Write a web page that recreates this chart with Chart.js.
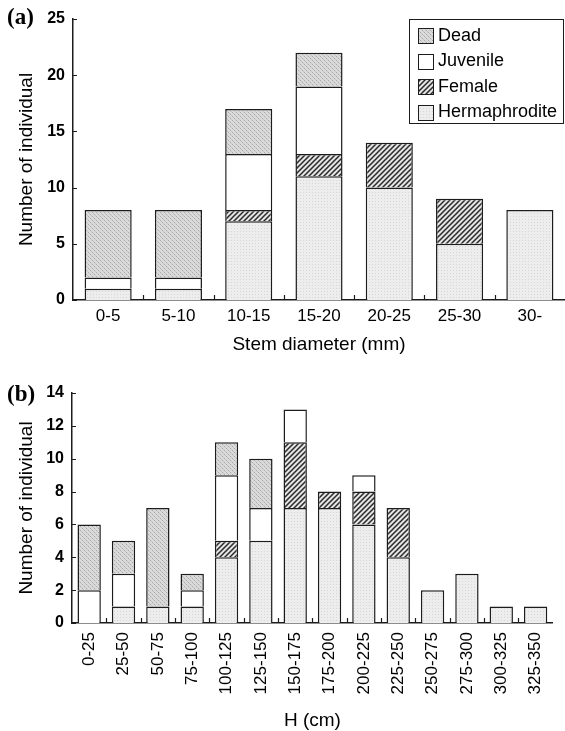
<!DOCTYPE html>
<html>
<head>
<meta charset="utf-8">
<script src="https://cdn.jsdelivr.net/npm/chart.js"></script>
<style>
  html, body { margin: 0; padding: 0; background: #fff; }
  .panel { position: absolute; left: 0; width: 565px; }
  #boxA { top: 0; height: 362px; }
  #boxB { top: 362px; height: 369px; }
</style>
</head>
<body>
<div class="panel" id="boxA"><canvas id="stemChart" width="565" height="362"></canvas></div>
<div class="panel" id="boxB"><canvas id="heightChart" width="565" height="369"></canvas></div>
<script>
    // (a) stem diameter classes
    const stemCats = ['0-5', '5-10', '10-15', '15-20', '20-25', '25-30', '30-'];
    const stemHerm = [1, 1, 7, 11, 10, 5, 8];
    const stemFemale = [0, 0, 1, 2, 4, 4, 0];
    const stemJuv = [1, 1, 5, 6, 0, 0, 0];
    const stemDead = [6, 6, 4, 3, 0, 0, 0];
    const stemTicks = [0, 5, 10, 15, 20, 25];

    // (b) height classes
    const heightCats = ['0-25', '25-50', '50-75', '75-100', '100-125', '125-150', '150-175',
        '175-200', '200-225', '225-250', '250-275', '275-300', '300-325', '325-350'];
    const heightHerm = [0, 1, 1, 1, 4, 5, 7, 7, 6, 4, 2, 3, 1, 1];
    const heightFemale = [0, 0, 0, 0, 1, 0, 4, 1, 2, 3, 0, 0, 0, 0];
    const heightJuv = [2, 2, 0, 1, 4, 2, 2, 0, 1, 0, 0, 0, 0, 0];
    const heightDead = [4, 2, 6, 1, 2, 3, 0, 0, 0, 0, 0, 0, 0, 0];
    const heightTicks = [0, 2, 4, 6, 8, 10, 12, 14];

    const SANS = '"Liberation Sans", Arial, sans-serif';
    const SERIF = '"Liberation Serif", "Times New Roman", serif';
    const INK = '#1c1c1c';

    function makeTile(size, draw) {
        const c = document.createElement('canvas');
        c.width = size; c.height = size;
        const g = c.getContext('2d');
        draw(g, size);
        return document.createElement('canvas').getContext('2d').createPattern(c, 'repeat');
    }

    // fine light dots
    const hermFill = makeTile(3, (g, s) => {
        g.fillStyle = '#ededed'; g.fillRect(0, 0, s, s);
        g.fillStyle = '#d6d6d6'; g.fillRect(0, 0, 1, 1);
    });
    // coarser checker dots
    const deadFill = makeTile(4, (g, s) => {
        g.fillStyle = '#dadada'; g.fillRect(0, 0, s, s);
        g.fillStyle = '#a9a9a9';
        g.fillRect(0, 0, 1, 1); g.fillRect(2, 2, 1, 1);
        g.fillStyle = '#c4c4c4';
        g.fillRect(1, 1, 1, 1); g.fillRect(3, 3, 1, 1);
    });
    // diagonal hatching
    const femaleFill = makeTile(5, (g, s) => {
        g.fillStyle = '#e4e4e4'; g.fillRect(0, 0, s, s);
        g.strokeStyle = '#2a2a2a'; g.lineWidth = 1.5;
        g.beginPath();
        g.moveTo(-1, s + 1); g.lineTo(s + 1, -1);
        g.moveTo(-2, 2); g.lineTo(2, -2);
        g.moveTo(s - 2, s + 2); g.lineTo(s + 2, s - 2);
        g.stroke();
    });
    const juvFill = '#ffffff';

    function makeSets(herm, female, juv, dead, pct) {
        const base = { borderColor: INK, borderWidth: 1.5, barPercentage: pct, categoryPercentage: 1 };
        return [
            Object.assign({ label: 'Hermaphrodite', data: herm, backgroundColor: hermFill }, base),
            Object.assign({ label: 'Female', data: female, backgroundColor: femaleFill }, base),
            Object.assign({ label: 'Juvenile', data: juv, backgroundColor: juvFill }, base),
            Object.assign({ label: 'Dead', data: dead, backgroundColor: deadFill }, base)
        ];
    }

    // inward tick marks + panel letter (+ legend on panel a)
    const decor = {
        id: 'decor',
        afterDraw(chart, args, opts) {
            const ctx = chart.ctx;
            const area = chart.chartArea;
            const x = chart.scales.x, y = chart.scales.y;
            ctx.save();
            ctx.strokeStyle = INK;
            ctx.lineWidth = 1.2;
            ctx.beginPath();
            y.ticks.forEach(t => {
                const py = Math.round(y.getPixelForValue(t.value)) + 0.5;
                ctx.moveTo(area.left, py); ctx.lineTo(area.left + 4, py);
            });
            for (let i = 1; i < x.ticks.length; i++) {
                const px = Math.round((x.getPixelForValue(i - 1) + x.getPixelForValue(i)) / 2) + 0.5;
                ctx.moveTo(px, area.bottom); ctx.lineTo(px, area.bottom - 5);
            }
            ctx.stroke();

            ctx.fillStyle = '#000';
            ctx.font = 'bold 23px ' + SERIF;
            ctx.textBaseline = 'middle';
            ctx.textAlign = 'left';
            ctx.fillText(opts.letter, 7, opts.letterY);

            if (opts.legend) {
                const lx = 409.5, ly = 19.5, lw = 154, lh = 104;
                ctx.fillStyle = '#fff';
                ctx.fillRect(lx, ly, lw, lh);
                ctx.lineWidth = 1;
                ctx.strokeStyle = INK;
                ctx.strokeRect(lx, ly, lw, lh);
                const order = [3, 2, 1, 0];
                ctx.font = '18px ' + SANS;
                order.forEach((di, row) => {
                    const ds = chart.data.datasets[di];
                    const cy = 35 + row * 25.5;
                    ctx.fillStyle = ds.backgroundColor;
                    ctx.fillRect(418.5, Math.round(cy - 7) + 0.5, 15, 15);
                    ctx.strokeStyle = INK;
                    ctx.strokeRect(418.5, Math.round(cy - 7) + 0.5, 15, 15);
                    ctx.fillStyle = '#000';
                    ctx.fillText(ds.label, 438, cy + 1);
                });
            }
            ctx.restore();
        }
    };

    function makeOptions(cfg) {
        return {
            responsive: false,
            animation: false,
            layout: { padding: { top: cfg.top, left: 0, right: 0, bottom: 0 } },
            plugins: {
                legend: { display: false },
                tooltip: { enabled: false },
                decor: { letter: cfg.letter, letterY: cfg.letterY, legend: cfg.legend }
            },
            scales: {
                x: {
                    stacked: true,
                    grid: { display: false, drawTicks: false },
                    border: { display: true, color: INK, width: 1.5 },
                    ticks: {
                        color: '#000', font: { family: SANS, size: 17 }, padding: cfg.xPad,
                        maxRotation: cfg.rot, minRotation: cfg.rot, autoSkip: false
                    },
                    title: {
                        display: true, text: cfg.xTitle, color: '#000',
                        font: { family: SANS, size: 19, lineHeight: 1 },
                        padding: { top: 0, bottom: cfg.xTitlePad }
                    },
                    afterFit: s => { s.height = cfg.xHeight; }
                },
                y: {
                    stacked: true,
                    min: 0, max: cfg.yTicks[cfg.yTicks.length - 1],
                    afterBuildTicks: s => { s.ticks = cfg.yTicks.map(v => ({ value: v })); },
                    grid: { display: false, drawTicks: false },
                    border: { display: true, color: INK, width: 1.5 },
                    ticks: { color: '#000', font: { family: SANS, size: 16, weight: 'bold' }, padding: 8 },
                    title: {
                        display: true, text: 'Number of individual', color: '#000',
                        font: { family: SANS, size: 19, lineHeight: 1.2 },
                        padding: { top: 15, bottom: 0 }
                    },
                    afterFit: s => { s.width = cfg.yWidth; }
                }
            }
        };
    }

    new Chart(document.getElementById('stemChart').getContext('2d'), {
        type: 'bar',
        data: { labels: stemCats, datasets: makeSets(stemHerm, stemFemale, stemJuv, stemDead, 0.67) },
        options: makeOptions({
            top: 19, letter: '(a)', letterY: 18, legend: true, xPad: 6, rot: 0,
            xTitle: 'Stem diameter (mm)', xTitlePad: 8, xHeight: 62, yTicks: stemTicks, yWidth: 73
        }),
        plugins: [decor]
    });

    new Chart(document.getElementById('heightChart').getContext('2d'), {
        type: 'bar',
        data: { labels: heightCats, datasets: makeSets(heightHerm, heightFemale, heightJuv, heightDead, 0.68) },
        options: makeOptions({
            top: 31, letter: '(b)', letterY: 33, legend: false, xPad: 9, rot: 90,
            xTitle: 'H (cm)', xTitlePad: 1, xHeight: 108, yTicks: heightTicks, yWidth: 72
        }),
        plugins: [decor]
    });
</script>
</body>
</html>
